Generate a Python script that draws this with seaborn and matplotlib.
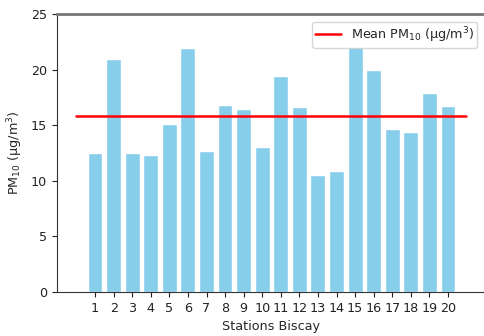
import matplotlib
matplotlib.use("Agg")
import matplotlib.pyplot as plt
import seaborn as sns
import numpy as np
import pandas as pd

stations = list(range(1, 21))
pm10 = [12.5, 20.93, 12.47, 12.35, 15.07, 21.92, 12.71, 16.84, 16.45, 13.0,
        19.38, 16.6, 10.53, 10.89, 22.01, 19.98, 14.62, 14.41, 17.88, 16.75]
mean_x = [0, 21]

sns.set_style("ticks")
plt.rcParams['font.family'] = ['DejaVu Sans']

df = pd.DataFrame({"station": stations, "pm10": pm10})
mean_val = float(np.mean(pm10))
line_df = pd.DataFrame({"x": mean_x, "y": [mean_val, mean_val]})

fs = 9.2
fig = plt.figure(figsize=(4.85, 3.36), dpi=100)
ax = fig.add_axes([57/485, 44/336, 429/485, 278/336])

sns.barplot(data=df, x="station", y="pm10", native_scale=True, color="skyblue",
            saturation=1, edgecolor="white", linewidth=1, width=0.8, ax=ax, zorder=2)
sns.lineplot(data=line_df, x="x", y="y", color="red", linewidth=1.8,
             label="Mean PM$_{10}$ (µg/m$^3$)", ax=ax, zorder=3)

ax.set_xlim(-1.05, 22.05)
ax.set_ylim(0, 25)
ax.set_xticks(stations)
ax.set_xticklabels([str(s) for s in stations])
ax.set_yticks([0, 5, 10, 15, 20, 25])
ax.tick_params(labelsize=fs, colors="#222222")
ax.set_xlabel("Stations Biscay", fontsize=fs)
ax.set_ylabel("PM$_{10}$ (µg/m$^3$)", fontsize=fs)

ax.spines["right"].set_visible(False)
ax.spines["top"].set_color("#777777")
ax.spines["top"].set_linewidth(2)
ax.spines["left"].set_color("#333333")
ax.spines["bottom"].set_color("#333333")

leg = ax.legend(loc="upper right", fontsize=fs, frameon=True, borderpad=0.25,
                bbox_to_anchor=(0.995, 0.995))
leg.set_zorder(5)

fig.savefig("out.png", dpi=100)
